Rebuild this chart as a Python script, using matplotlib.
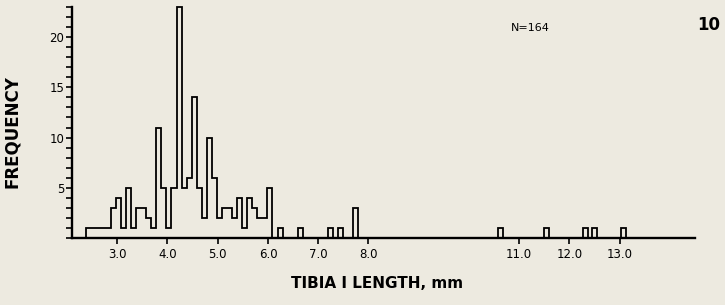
import numpy as np
import matplotlib
matplotlib.use("Agg")
import matplotlib.pyplot as plt
from matplotlib.ticker import MultipleLocator

# tibia I length classes (left edge of each 0.1 mm class) and frequencies
dense_left = [2.38, 2.48, 2.58, 2.68, 2.78, 2.88, 2.98, 3.08, 3.18, 3.28,
              3.38, 3.48, 3.58, 3.68, 3.78, 3.88, 3.98, 4.08, 4.18, 4.28,
              4.38, 4.48, 4.58, 4.68, 4.78, 4.88, 4.98, 5.08, 5.18, 5.28,
              5.38, 5.48, 5.58, 5.68, 5.78, 5.88, 5.98]
dense_freq = [1, 1, 1, 1, 1, 3, 4, 1, 5, 1,
              3, 3, 2, 1, 11, 5, 1, 5, 23, 5,
              6, 14, 5, 2, 10, 6, 2, 3, 3, 2,
              4, 1, 4, 3, 2, 2, 5]

# isolated large specimens
sparse_left = [6.2, 6.6, 7.2, 7.39, 7.7, 10.57, 11.49, 12.27, 12.45, 13.03]
sparse_freq = [1, 1, 1, 1, 3, 1, 1, 1, 1, 1]

bin_w = 0.1
xticks = [3, 4, 5, 6, 7, 8, 11, 12, 13]
xtick_labels = ['3.0', '4.0', '5.0', '6.0', '7.0', '8.0', '11.0', '12.0', '13.0']
yticks = [5, 10, 15, 20]

bg = '#edeae0'
W, H = 725, 305

fig = plt.figure(figsize=(W / 100, H / 100), dpi=100)
fig.patch.set_facecolor(bg)
ax = fig.add_axes([72 / W, 1 - 238 / H, (695 - 72) / W, 231 / H])
ax.set_facecolor(bg)

edges = dense_left + [dense_left[-1] + bin_w]
ax.stairs(dense_freq, edges, color='black', linewidth=1.3, clip_on=False)
ax.bar(sparse_left, sparse_freq, width=bin_w, align='edge',
       fill=False, edgecolor='black', linewidth=1.3, clip_on=False)

ax.set_xlim(2.1, 14.5)
ax.set_ylim(0, 23)

for s in ['top', 'right']:
    ax.spines[s].set_visible(False)
for s in ['left', 'bottom']:
    ax.spines[s].set_linewidth(1.7)

ax.set_xticks(xticks)
ax.set_xticklabels(xtick_labels)
ax.set_yticks(yticks)
ax.set_yticklabels([str(v) for v in yticks])
ax.yaxis.set_minor_locator(MultipleLocator(1))
ax.tick_params(axis='x', direction='out', length=4, width=1.2, pad=3,
               labelsize=8.5)
ax.tick_params(axis='y', which='both', direction='out', length=4.5, width=1.2,
               pad=1, labelsize=8.5)

fig.text(377 / W, 1 - 284 / H, 'TIBIA I LENGTH, mm', ha='center', va='center',
         fontsize=11, fontweight='bold')
fig.text(12 / W, 1 - 132 / H, 'FREQUENCY', ha='center', va='center',
         rotation=90, fontsize=12, fontweight='bold')
fig.text(530 / W, 1 - 28 / H, 'N=164', ha='center', va='center', fontsize=8)
fig.text(709 / W, 1 - 25 / H, '10', ha='center', va='center',
         fontsize=12, fontweight='bold')

fig.savefig('out.png', dpi=100, facecolor=bg)
